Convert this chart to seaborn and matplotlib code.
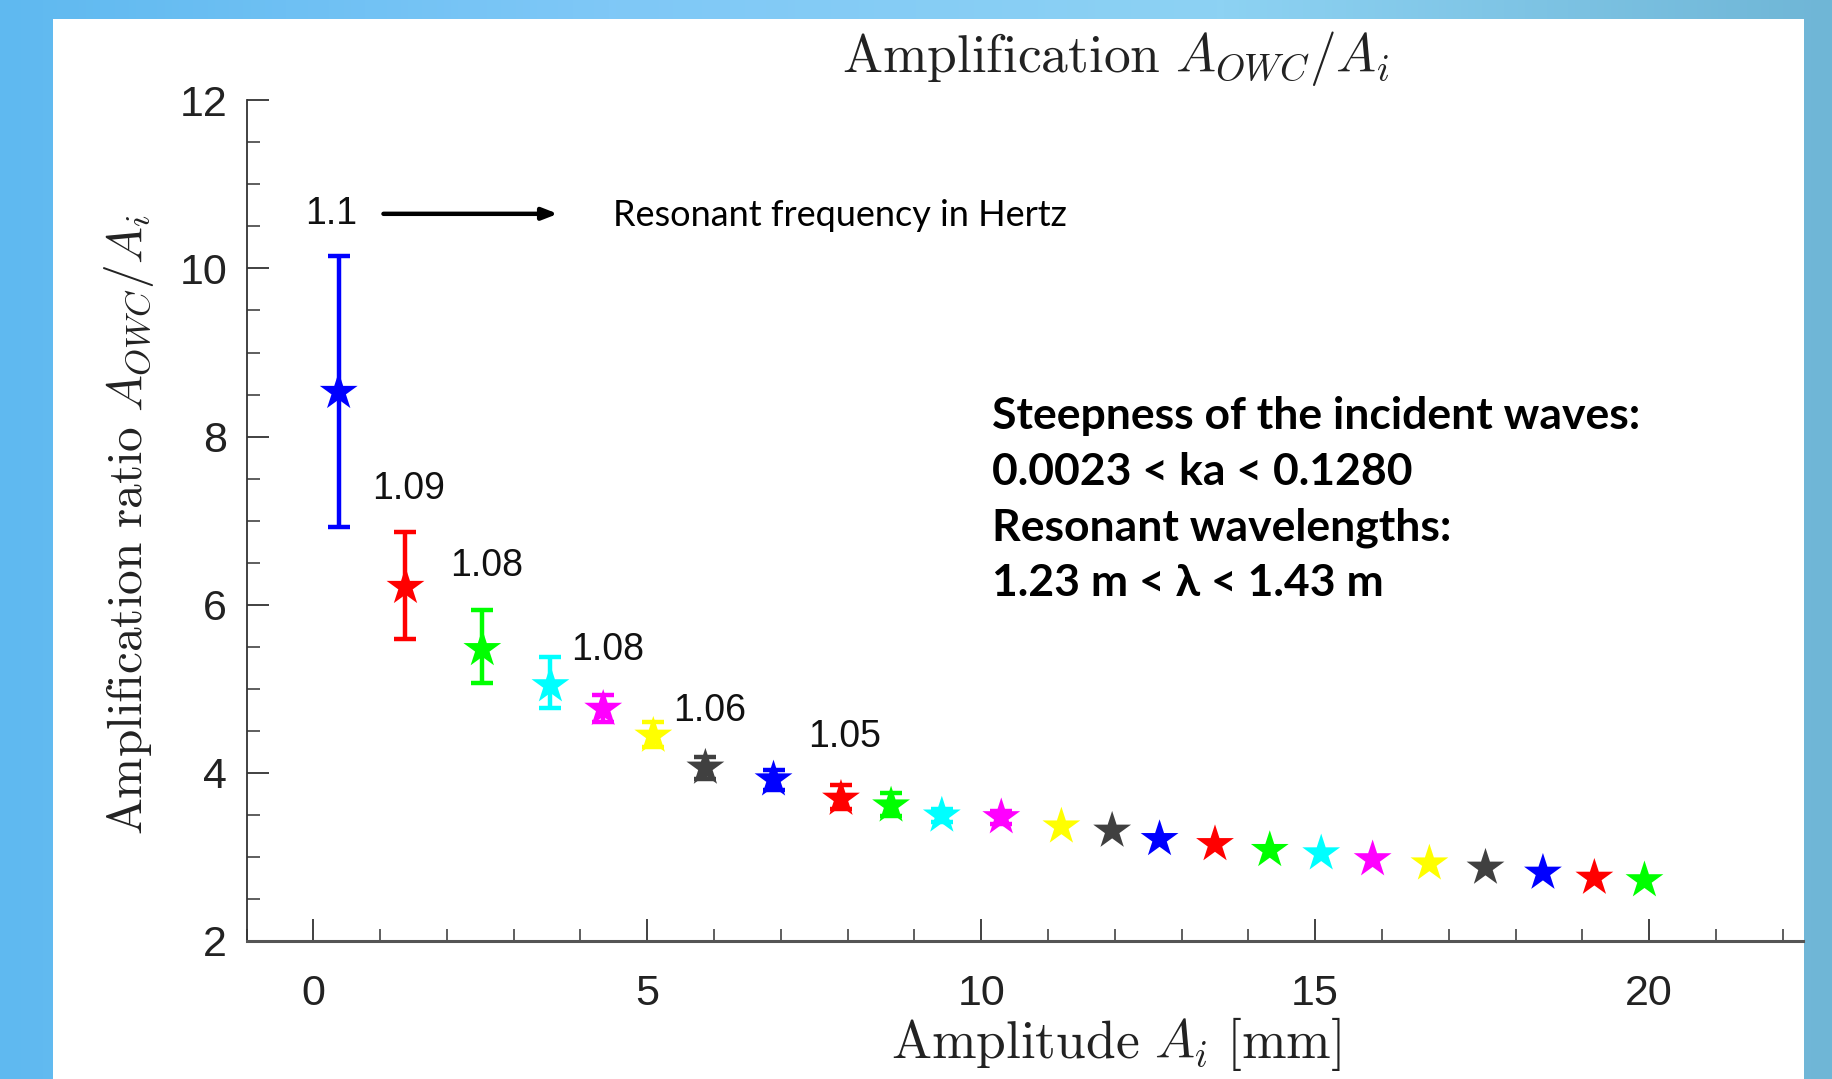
import numpy as np
import matplotlib
matplotlib.use("Agg")
import matplotlib.pyplot as plt
import seaborn as sns
import pandas as pd
from matplotlib.patches import Rectangle
from matplotlib.colors import LinearSegmentedColormap

# ---------------- data ----------------
amplitude = [0.38, 1.38, 2.53, 3.55, 4.34, 5.09, 5.87, 6.89, 7.90, 8.65, 9.41, 10.30,
             11.20, 11.96, 12.67, 13.50, 14.32, 15.09, 15.86, 16.71, 17.55, 18.41, 19.18, 19.93]
ratio = [8.53, 6.21, 5.47, 5.04, 4.76, 4.44, 4.06, 3.92, 3.69, 3.61, 3.49, 3.47,
         3.36, 3.31, 3.21, 3.15, 3.08, 3.04, 2.97, 2.92, 2.87, 2.81, 2.75, 2.72]
err_low = [1.60, 0.62, 0.40, 0.27, 0.15, 0.13, 0.13, 0.12, 0.12, 0.12, 0.08, 0.08,
           0, 0, 0, 0, 0, 0, 0, 0, 0, 0, 0, 0]
err_high = [1.62, 0.65, 0.47, 0.34, 0.17, 0.17, 0.13, 0.11, 0.17, 0.15, 0.08, 0.08,
            0, 0, 0, 0, 0, 0, 0, 0, 0, 0, 0, 0]
color_cycle = ["#0000ff", "#ff0000", "#00ff00", "#00ffff", "#ff00ff", "#ffff00", "#404040"]

freq_labels = ["1.1", "1.09", "1.08", "1.08", "1.06", "1.05"]
freq_x = [0.26, 1.43, 2.59, 4.41, 5.93, 7.95]
freq_y = [10.65, 7.38, 6.46, 5.46, 4.74, 4.42]

x_ticks = [0, 5, 10, 15, 20]
y_ticks = [2, 4, 6, 8, 10, 12]

info_text = ("Steepness of the incident waves:\n0.0023 < ka < 0.1280\n"
             "Resonant wavelengths:\n1.23 m < \u03bb < 1.43 m")

# ---------------- figure ----------------
sns.set_style("ticks")
plt.rcParams["mathtext.fontset"] = "cm"
plt.rcParams["font.family"] = ["Liberation Sans", "DejaVu Sans"]

fig = plt.figure(figsize=(18.33, 10.79), dpi=100)

# background gradient + white panel
bg = fig.add_axes([0, 0, 1, 1], zorder=-10)
grad = np.linspace(0, 1, 256).reshape(1, -1)
cmap = LinearSegmentedColormap.from_list("bgc", ["#5fb9f0", "#7fc8f7", "#8dd2f3", "#6fb6d6"])
bg.imshow(grad, aspect="auto", cmap=cmap, extent=[0, 1, 0, 1], transform=bg.transAxes)
bg.add_patch(Rectangle((0.029, 0.0), 0.955, 0.982, transform=bg.transAxes,
                       facecolor="white", edgecolor="none"))
bg.set_axis_off()

ax = fig.add_axes([0.1345, 0.128, 0.849, 0.779])
ax.set_facecolor("none")

df = pd.DataFrame({
    "amplitude": amplitude,
    "ratio": ratio,
    "idx": [str(i) for i in range(len(amplitude))],
})
point_colors = [color_cycle[i % len(color_cycle)] for i in range(len(amplitude))]

for xi, yi, lo, hi, c in zip(amplitude, ratio, err_low, err_high, point_colors):
    if lo > 0 or hi > 0:
        ax.errorbar([xi], [yi], yerr=[[lo], [hi]], fmt="none", ecolor=c,
                    elinewidth=3.2, capsize=8, capthick=3.2, zorder=2)

sns.scatterplot(data=df, x="amplitude", y="ratio", hue="idx", palette=point_colors,
                marker="*", s=820, linewidth=0, legend=False, ax=ax, zorder=3)

ax.set_xlim(-1.0, 22.3)
ax.set_ylim(2, 12)
ax.set_xticks(x_ticks)
ax.set_yticks(y_ticks)
ax.set_xticks(np.arange(-1, 23, 1), minor=True)
ax.set_yticks(np.arange(2, 12.01, 0.5), minor=True)
ax.tick_params(which="major", direction="in", length=16, width=1.3, colors="#333333",
               labelsize=31, labelcolor="#222222")
ax.tick_params(axis="x", which="major", pad=24)
ax.tick_params(axis="y", which="major", pad=14)
ax.tick_params(which="minor", direction="in", length=9, width=1.1, colors="#333333")
for s in ["top", "right"]:
    ax.spines[s].set_visible(False)
ax.spines["left"].set_color("#333333")
ax.spines["left"].set_linewidth(1.3)
ax.spines["bottom"].set_color("#555555")
ax.spines["bottom"].set_linewidth(2.2)
ax.set_xlabel("")
ax.set_ylabel("")

# frequency annotations
for lab, xx, yy in zip(freq_labels, freq_x, freq_y):
    ax.text(xx, yy, lab, ha="center", va="center", fontsize=27, color="#111111")

ax.annotate("", xy=(3.66, 10.65), xytext=(1.05, 10.65),
            arrowprops=dict(arrowstyle="-|>,head_length=0.9,head_width=0.35",
                            color="black", lw=3.2, shrinkA=0, shrinkB=0))
ax.text(4.48, 10.63, "Resonant frequency in Hertz", ha="left", va="center",
        fontsize=26, family=["Lato", "DejaVu Sans"], color="black")

ax.text(10.16, 7.25, info_text, ha="left", va="center", fontsize=32, fontweight="bold",
        family=["Lato", "DejaVu Sans"], color="black", linespacing=1.47)

# titles / labels
fig.text(1116 / 1833, 1 - 58 / 1079, r"$\mathrm{Amplification}\ A_{OWC}/A_i$",
         ha="center", va="center", fontsize=38.5, color="#222222")
fig.text(1116 / 1833, 1 - 1044 / 1079, r"$\mathrm{Amplitude}\ A_i\ \mathrm{[mm]}$",
         ha="center", va="center", fontsize=38.5, color="#222222")
fig.text(129 / 1833, 1 - 525 / 1079, r"$\mathrm{Amplification\ ratio}\ A_{OWC}/A_i$",
         ha="center", va="center", rotation=90, fontsize=35.5, color="#222222")

fig.savefig("out.png", dpi=100)
